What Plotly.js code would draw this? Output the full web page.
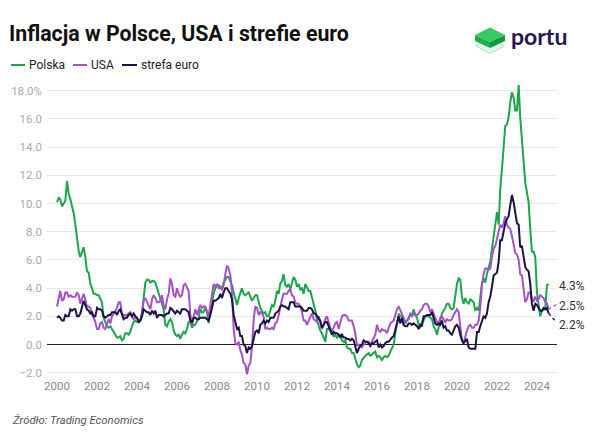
<!DOCTYPE html>
<html>
<head>
<meta charset="utf-8">
<script src="https://cdn.plot.ly/plotly-3.0.1.min.js"></script>
<style>html,body{margin:0;padding:0;background:#fff;}#chart{width:600px;height:440px;}</style>
</head>
<body>
<div id="chart"></div>
<script>
// Monthly y/y inflation, Jan 2000 - Aug 2024
const startYear = 2000;
const seriesNames = ['Polska', 'USA', 'strefa euro'];
const xTickYears = [2000, 2002, 2004, 2006, 2008, 2010, 2012, 2014, 2016, 2018, 2020, 2022, 2024];
const yTickValues = [-2, 0, 2, 4, 6, 8, 10, 12, 14, 16, 18];
const yTickLabels = ['\u22122.0', '0.0', '2.0', '4.0', '6.0', '8.0', '10.0', '12.0', '14.0', '16.0', '18.0%'];

const polska = [
10.1,10.4,10.3,9.8,10.0,10.2,11.6,10.7,10.3,9.9,9.3,8.5,
7.4,6.6,6.2,6.6,6.9,6.2,5.2,5.1,4.3,4.0,3.6,3.6,
3.5,3.5,3.3,3.0,1.9,1.6,1.3,1.2,1.3,1.1,0.9,0.8,
0.5,0.5,0.6,0.3,0.4,0.8,0.8,0.7,0.9,1.3,1.6,1.7,
1.6,1.6,1.7,2.2,3.4,4.4,4.6,4.6,4.4,4.5,4.5,4.4,
4.0,3.6,3.4,3.0,2.5,1.4,1.3,1.6,1.8,1.6,1.0,0.7,
0.6,0.7,0.4,0.7,0.9,0.8,1.1,1.6,1.6,1.2,1.4,1.4,
1.6,1.9,2.5,2.3,2.3,2.6,2.3,1.5,2.3,3.0,3.6,4.0,
4.2,4.2,4.1,4.0,4.4,4.6,4.8,4.8,4.5,4.2,3.7,3.3,
2.8,3.3,3.6,4.0,3.6,3.5,3.6,3.7,3.4,3.1,3.3,3.5,
3.5,2.9,2.6,2.4,2.2,2.3,2.0,2.0,2.5,2.8,2.7,3.1,
3.8,3.6,4.3,4.5,5.0,4.2,4.1,4.3,3.9,4.3,4.8,4.6,
4.1,4.3,3.9,4.0,3.6,4.3,4.0,3.8,3.8,3.4,2.8,2.4,
1.7,1.3,1.0,0.8,0.5,0.2,1.1,1.1,1.0,0.8,0.6,0.7,
0.5,0.7,0.7,0.3,0.2,0.3,-0.2,-0.3,-0.3,-0.6,-0.6,-1.0,
-1.4,-1.6,-1.5,-1.1,-0.9,-0.8,-0.7,-0.6,-0.8,-0.7,-0.6,-0.5,
-0.9,-0.8,-0.9,-1.1,-0.9,-0.8,-0.9,-0.8,-0.5,-0.2,0.0,0.8,
1.7,2.2,2.0,2.0,1.9,1.5,1.7,1.8,2.2,2.1,2.5,2.1,
1.9,1.4,1.3,1.6,1.7,2.0,2.0,2.0,1.9,1.8,1.3,1.1,
0.7,1.2,1.7,2.2,2.4,2.6,2.9,2.9,2.6,2.5,2.6,3.4,
4.3,4.7,4.6,3.4,2.9,3.3,3.0,2.9,3.2,3.1,3.0,2.4,
2.6,2.4,3.2,4.3,4.7,4.4,5.0,5.5,5.9,6.8,7.8,8.6,
9.4,8.5,11.0,12.4,13.9,15.5,15.6,16.1,17.2,17.9,17.5,16.6,
16.6,18.4,16.1,14.7,13.0,11.5,10.8,10.1,8.2,6.6,6.6,6.2,
3.7,2.8,2.0,2.4,2.5,2.6,4.2,4.3
];

const usa = [
2.7,3.2,3.8,3.1,3.2,3.7,3.7,3.4,3.5,3.4,3.4,3.4,
3.7,3.5,2.9,3.3,3.6,3.2,2.7,2.7,2.6,2.1,1.9,1.6,
1.1,1.1,1.5,1.6,1.2,1.1,1.5,1.8,1.5,2.0,2.2,2.4,
2.6,3.0,3.0,2.2,2.1,2.1,2.1,2.2,2.3,2.0,1.8,1.9,
1.9,1.7,1.7,2.3,3.1,3.3,3.0,2.7,2.5,3.2,3.5,3.3,
3.0,3.0,3.1,3.5,2.8,2.5,3.2,3.6,4.7,4.3,3.5,3.4,
4.0,3.6,3.4,3.5,4.2,4.3,4.1,3.8,2.1,1.3,2.0,2.5,
2.1,2.4,2.8,2.6,2.7,2.7,2.4,2.0,2.8,3.5,4.3,4.1,
4.3,4.0,4.0,3.9,4.2,5.0,5.6,5.4,4.9,3.7,1.1,0.1,
0.0,0.2,-0.4,-0.7,-1.3,-1.4,-2.1,-1.5,-1.3,-0.2,1.8,2.7,
2.6,2.1,2.3,2.2,2.0,1.1,1.2,1.1,1.1,1.2,1.1,1.5,
1.6,2.1,2.7,3.2,3.6,3.6,3.6,3.8,3.9,3.5,3.4,3.0,
2.9,2.9,2.7,2.3,1.7,1.7,1.4,1.7,2.0,2.2,1.8,1.7,
1.6,2.0,1.5,1.1,1.4,1.8,2.0,1.5,1.2,1.0,1.2,1.5,
1.6,1.1,1.5,2.0,2.1,2.1,2.0,1.7,1.7,1.7,1.3,0.8,
-0.1,0.0,-0.1,-0.2,0.0,0.1,0.2,0.2,0.0,0.2,0.5,0.7,
1.4,1.0,0.9,1.1,1.0,1.0,0.8,1.1,1.5,1.6,1.7,2.1,
2.5,2.7,2.4,2.2,1.9,1.6,1.7,1.9,2.2,2.0,2.2,2.1,
2.1,2.2,2.4,2.5,2.8,2.9,2.9,2.7,2.3,2.5,2.2,1.9,
1.6,1.5,1.9,2.0,1.8,1.6,1.8,1.7,1.7,1.8,2.1,2.3,
2.5,2.3,1.5,0.3,0.1,0.6,1.0,1.3,1.4,1.2,1.2,1.4,
1.4,1.7,2.6,4.2,5.0,5.4,5.4,5.3,5.4,6.2,6.8,7.0,
7.5,7.9,8.5,8.3,8.6,9.1,8.5,8.3,8.2,7.7,7.1,6.5,
6.4,6.0,5.0,4.9,4.0,3.0,3.2,3.7,3.7,3.2,3.1,3.4,
3.1,3.2,3.5,3.4,3.3,3.0,2.9,2.5
];

const euro = [
1.9,2.0,1.9,1.7,1.7,2.1,2.0,2.0,2.5,2.4,2.5,2.5,
2.0,2.0,2.2,2.6,3.1,2.8,2.5,2.4,2.2,2.3,2.0,2.0,
2.6,2.5,2.5,2.4,2.0,1.9,2.0,2.1,2.1,2.3,2.3,2.3,
2.1,2.4,2.5,2.1,1.8,1.9,1.9,2.1,2.2,2.0,2.2,2.0,
1.9,1.6,1.7,2.0,2.5,2.4,2.3,2.3,2.1,2.4,2.2,2.4,
1.9,2.1,2.1,2.1,2.0,2.1,2.2,2.2,2.6,2.5,2.3,2.2,
2.4,2.3,2.2,2.5,2.5,2.5,2.4,2.3,1.7,1.6,1.9,1.9,
1.8,1.8,1.9,1.9,1.9,1.9,1.8,1.7,2.1,2.6,3.1,3.1,
3.2,3.3,3.6,3.3,3.7,4.0,4.0,3.8,3.6,3.2,2.1,1.6,
1.1,1.2,0.6,0.6,0.0,-0.1,-0.6,-0.2,-0.3,-0.1,0.5,0.9,
1.0,0.8,1.4,1.5,1.7,1.5,1.7,1.6,1.9,1.9,1.9,2.2,
2.3,2.4,2.7,2.8,2.7,2.7,2.6,2.5,3.0,3.0,3.0,2.7,
2.7,2.7,2.7,2.6,2.4,2.4,2.4,2.6,2.6,2.5,2.2,2.2,
2.0,1.8,1.7,1.2,1.4,1.6,1.6,1.3,1.1,0.7,0.9,0.8,
0.8,0.7,0.5,0.7,0.5,0.5,0.4,0.4,0.3,0.4,0.3,-0.2,
-0.6,-0.3,-0.1,0.0,0.3,0.2,0.2,0.1,-0.1,0.1,0.1,0.2,
0.3,-0.2,0.0,-0.2,-0.1,0.1,0.2,0.2,0.4,0.5,0.6,1.1,
1.7,2.0,1.5,1.9,1.4,1.3,1.3,1.5,1.5,1.4,1.5,1.4,
1.3,1.1,1.4,1.3,2.0,2.0,2.1,2.1,2.1,2.3,1.9,1.5,
1.4,1.5,1.4,1.7,1.2,1.3,1.0,1.0,0.8,0.7,1.0,1.3,
1.4,1.2,0.7,0.3,0.1,0.3,0.4,-0.2,-0.3,-0.3,-0.3,-0.3,
0.9,0.9,1.3,1.6,2.0,1.9,2.2,3.0,3.4,4.1,4.9,5.0,
5.1,5.9,7.4,7.4,8.1,8.6,8.9,9.1,9.9,10.6,10.1,9.2,
8.6,8.5,6.9,7.0,6.1,5.5,5.3,5.2,4.3,2.9,2.4,2.9,
2.8,2.6,2.4,2.4,2.6,2.5,2.6,2.2
];

const colors = ['#1ba64a', '#a551c7', '#1d1247'];

function monthDates(n) {
  const out = [];
  for (let i = 0; i < n; i++) {
    const y = startYear + Math.floor(i / 12);
    const m = (i % 12) + 1;
    out.push(y + '-' + String(m).padStart(2, '0') + '-01');
  }
  return out;
}

const W = 600, H = 440;
const M = {l: 47, r: 43, t: 83, b: 63};
const PW = W - M.l - M.r, PH = H - M.t - M.b;
const px = x => (x - M.l) / PW;
const py = y => (H - M.b - y) / PH;

const allSeries = [polska, usa, euro];
const traces = allSeries.map((vals, i) => ({
  type: 'scatter', mode: 'lines',
  x: monthDates(vals.length), y: vals,
  name: seriesNames[i],
  line: {color: colors[i], width: 2},
  showlegend: false, hoverinfo: 'skip'
}));

const shapes = [];
const annotations = [];

// custom legend
const legendItems = [[11, 25, 27], [73, 87, 89], [122, 137, 139]];
legendItems.forEach((it, i) => {
  shapes.push({type: 'line', xref: 'paper', yref: 'paper',
    x0: px(it[0]), x1: px(it[1]), y0: py(65), y1: py(65),
    line: {color: colors[i], width: 2}});
  annotations.push({xref: 'paper', yref: 'paper', x: px(it[2]), y: py(65),
    xanchor: 'left', yanchor: 'middle', showarrow: false,
    text: seriesNames[i], font: {size: 12, color: '#222'}});
});

// end labels with dotted leaders
const endShift = [0, 5, -9];
allSeries.forEach((vals, i) => {
  const dates = monthDates(vals.length);
  const lx = dates[dates.length - 1], ly = vals[vals.length - 1];
  if (endShift[i] !== 0) {
    shapes.push({type: 'line', xref: 'x', yref: 'y',
      xsizemode: 'pixel', ysizemode: 'pixel', xanchor: lx, yanchor: ly,
      x0: 0, x1: 8, y0: 0, y1: endShift[i],
      line: {color: colors[i], width: 1.3, dash: 'dot'}});
  }
  annotations.push({x: lx, y: ly, xref: 'x', yref: 'y', xanchor: 'left', yanchor: 'middle',
    xshift: 8, yshift: endShift[i] - 2, showarrow: false,
    text: ly.toFixed(1) + '%', font: {size: 12, color: '#333'}});
});

// source
annotations.push({xref: 'paper', yref: 'paper', x: px(10), y: py(420), xanchor: 'left', yanchor: 'middle',
  showarrow: false, text: '<i>Źródło: Trading Economics</i>', font: {size: 11.3, color: '#555'}});

// logo text
annotations.push({xref: 'paper', yref: 'paper', x: px(509), y: py(36), xanchor: 'left', yanchor: 'middle',
  showarrow: false, text: '<b>portu</b>', font: {size: 23, color: '#2a1650', family: 'Lato, Roboto, sans-serif'}});

// logo cube
function pathP(pts) {
  return 'M' + pts.map(p => px(p[0]) + ',' + py(p[1])).join(' L') + ' Z';
}
shapes.push({type: 'path', xref: 'paper', yref: 'paper', path: pathP([[476,46],[490,53.5],[504,46],[490,39]]),
  fillcolor: 'rgba(180,236,200,0.35)', line: {color: '#b3ebc8', width: 1.3}});
shapes.push({type: 'path', xref: 'paper', yref: 'paper', path: pathP([[475,35],[490,42],[490,48],[475,41]]),
  fillcolor: '#1fae4c', line: {width: 0}});
shapes.push({type: 'path', xref: 'paper', yref: 'paper', path: pathP([[490,42],[505,35],[505,41],[490,48]]),
  fillcolor: '#16963f', line: {width: 0}});
shapes.push({type: 'path', xref: 'paper', yref: 'paper', path: pathP([[475,35],[490,27.5],[505,35],[490,42]]),
  fillcolor: '#33cc62', line: {width: 0}});

const layout = {
  width: W, height: H,
  margin: M,
  paper_bgcolor: '#fff', plot_bgcolor: '#fff',
  font: {family: 'Roboto, sans-serif', color: '#333'},
  title: {text: '<b>Inflacja w Polsce, USA i strefie euro</b>', xref: 'container', yref: 'container',
    x: 9 / W, xanchor: 'left', y: 1 - 34 / H, yanchor: 'middle',
    font: {size: 21.3, color: '#111', family: 'Roboto, sans-serif'}},
  showlegend: false,
  xaxis: {
    type: 'date', range: ['1999-07-02', '2025-01-01'],
    tickvals: xTickYears.map(y => y + '-01-01'), ticktext: xTickYears.map(String),
    showgrid: false, zeroline: false, showline: false, ticks: '',
    tickfont: {size: 11.5, color: '#888'}
  },
  yaxis: {
    range: [-2.3, 18.55], tickvals: yTickValues, ticktext: yTickLabels,
    showgrid: true, gridcolor: '#e8e8e8', gridwidth: 1,
    zeroline: true, zerolinecolor: '#222', zerolinewidth: 1.5,
    showline: false, ticks: '', ticklabelstandoff: 4,
    tickfont: {size: 11.5, color: '#aaa'}
  },
  shapes: shapes,
  annotations: annotations,
  hovermode: false
};

Plotly.newPlot('chart', traces, layout, {displayModeBar: false, staticPlot: true});
</script>
</body>
</html>
